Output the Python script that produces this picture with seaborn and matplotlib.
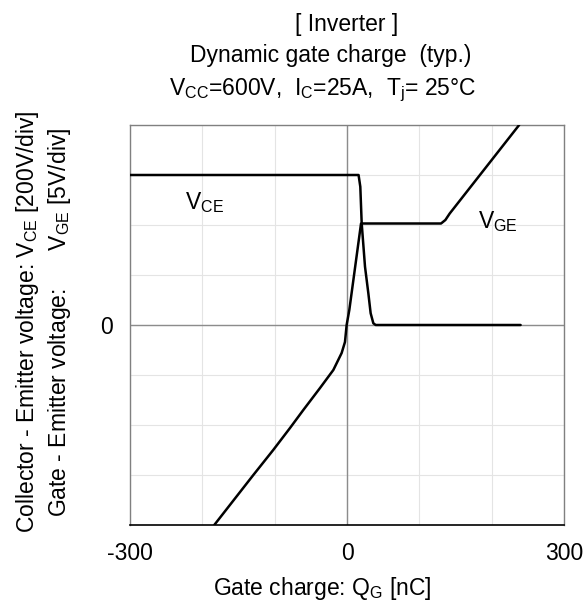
import numpy as np
import matplotlib
matplotlib.use("Agg")
import matplotlib.pyplot as plt
import seaborn as sns

# gate charge curves
qg_vce = [-300, 16, 18.4, 20.3, 24.9, 29.5, 32.7, 36.4, 39.6, 240]
vce = [600, 600, 553, 407, 233, 127, 47, 7, 0, 0]

qg_vge = [-183.5, -129.5, -102, -78.8, -60.4, -37.3, -18.9, -7.4, -2.8, -0.5,
          3.2, 19.4, 21.5, 130, 136, 142, 238]
vge = [-20, -15, -12.5, -10.3, -8.5, -6.3, -4.5, -2.8, -1.7, 0,
       1.5, 10.15, 10.15, 10.15, 10.5, 11.15, 20]

vce_per_div = 200
vge_per_div = 5
x_ticks = [-300, -200, -100, 0, 100, 200, 300]
x_labels = ["-300", "", "", "0", "", "", "300"]
y_ticks = [-4, -3, -2, -1, 0, 1, 2, 3, 4]
y_labels = ["", "", "", "", "0", "", "", "", ""]

sns.set_theme(style="white")
plt.rcParams['font.family'] = ['Liberation Sans', 'DejaVu Sans']
plt.rcParams['mathtext.fontset'] = 'custom'
plt.rcParams['mathtext.rm'] = 'Liberation Sans'
plt.rcParams['text.color'] = 'black'
plt.rcParams['xtick.color'] = 'black'
plt.rcParams['ytick.color'] = 'black'

fig = plt.figure(figsize=(5.87, 6.02), dpi=100)
ax = fig.add_axes([130 / 587, 77 / 602, 434 / 587, 400 / 602])

fs = 16.5
ax.grid(True, color="#e4e4e4", lw=0.8)
ax.axhline(0, color="#8c8c8c", lw=1, zorder=1)
ax.axvline(0, color="#8c8c8c", lw=1, zorder=1)

sns.lineplot(x=qg_vce, y=np.array(vce) / vce_per_div, ax=ax, sort=False,
             estimator=None, color="black", lw=1.8, zorder=3)
sns.lineplot(x=qg_vge, y=np.array(vge) / vge_per_div, ax=ax, sort=False,
             estimator=None, color="black", lw=1.8, zorder=3)

ax.set_xlim(-300, 300)
ax.set_ylim(-4, 4)
ax.set_xticks(x_ticks)
ax.set_xticklabels(x_labels, fontsize=fs)
ax.set_yticks(y_ticks)
ax.set_yticklabels(y_labels, fontsize=fs)
ax.tick_params(length=0, pad=12)
ax.set_xlabel("")
ax.set_ylabel("")

for s in ["left", "top", "right"]:
    ax.spines[s].set_color("#808080")
    ax.spines[s].set_linewidth(1)
ax.spines["bottom"].set_color("black")
ax.spines["bottom"].set_linewidth(1.2)

# curve labels
ax.text(-224, 2.44, r"V$\mathregular{_{CE}}$", fontsize=fs, va="center")
ax.text(181, 2.06, r"V$\mathregular{_{GE}}$", fontsize=fs, va="center")

# titles
fig.text(347 / 587, 1 - 31 / 602, "[ Inverter ]", fontsize=fs, ha="center", va="baseline")
fig.text(331 / 587, 1 - 62 / 602, "Dynamic gate charge  (typ.)", fontsize=fs, ha="center", va="baseline")
fig.text(323 / 587, 1 - 95 / 602,
         r"V$\mathregular{_{CC}}$=600V,  I$\mathregular{_{C}}$=25A,  T$\mathregular{_{j}}$= 25°C",
         fontsize=fs, ha="center", va="baseline")

# axis labels
fig.text(322 / 587, 1 - 595 / 602, r"Gate charge: Q$\mathregular{_{G}}$ [nC]",
         fontsize=fs, ha="center", va="baseline")
fig.text(28 / 587, 1 - 322 / 602,
         r"Collector - Emitter voltage: V$\mathregular{_{CE}}$ [200V/div]",
         fontsize=fs, ha="center", va="center", rotation=90)
fig.text(60 / 587, 1 - 322 / 602,
         r"Gate - Emitter voltage:      V$\mathregular{_{GE}}$ [5V/div]",
         fontsize=fs, ha="center", va="center", rotation=90)

fig.savefig("out.png", dpi=100)
